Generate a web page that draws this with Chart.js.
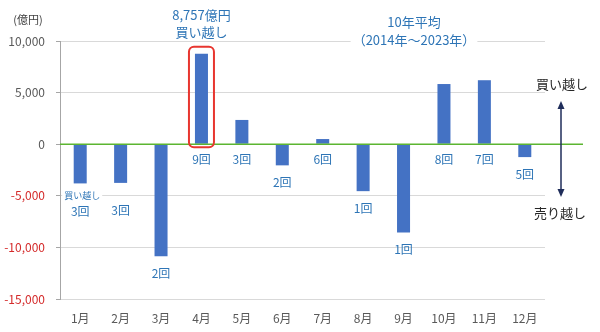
<!DOCTYPE html>
<html>
<head>
<meta charset="utf-8">
<script src="https://cdn.jsdelivr.net/npm/chart.js@4.4.1/dist/chart.umd.min.js"></script>
<style>
  html, body { margin: 0; padding: 0; background: #fff; }
  #wrap { width: 600px; height: 332px; }
</style>
</head>
<body>
<div id="wrap"><canvas id="flowChart" width="600" height="332"></canvas></div>
<script>
const months = ['1月', '2月', '3月', '4月', '5月', '6月', '7月', '8月', '9月', '10月', '11月', '12月'];
// 月別平均の差引き（億円）
const netFlow = [-3800, -3750, -10850, 8757, 2350, -2050, 500, -4550, -8550, 5830, 6200, -1250];
// 10年のうち買い越しとなった回数
const buyCounts = [3, 3, 2, 9, 3, 2, 6, 1, 1, 8, 7, 5];
const yTicks = [10000, 5000, 0, -5000, -10000, -15000];

const JP = '"Noto Sans CJK JP", "Noto Sans", sans-serif';
const BLUE_TEXT = '#2e75b6';

function textWithBg(ctx, str, x, y, font, color) {
    ctx.font = font;
    const w = ctx.measureText(str).width;
    ctx.fillStyle = '#fff';
    ctx.fillRect(x - w / 2 - 2, y - 8, w + 4, 16);
    ctx.fillStyle = color;
    ctx.fillText(str, x, y);
}

const overlay = {
    id: 'overlay',
    afterDatasetsDraw(chart) {
        const ctx = chart.ctx;
        const area = chart.chartArea;
        const y = chart.scales.y;
        const bars = chart.getDatasetMeta(0).data;
        const zero = y.getPixelForValue(0);

        ctx.save();
        // ゼロ線
        ctx.strokeStyle = '#5cb531';
        ctx.lineWidth = 1.5;
        ctx.beginPath();
        ctx.moveTo(area.left, zero);
        ctx.lineTo(583, zero);
        ctx.stroke();

        ctx.textAlign = 'center';
        ctx.textBaseline = 'middle';

        // 買い越し回数
        bars.forEach((bar, i) => {
            let ly;
            if (netFlow[i] >= 0) {
                ly = zero + 15;
            } else {
                ly = bar.y + (i < 2 ? 28 : 17);
            }
            ctx.font = '12px ' + JP;
            ctx.fillStyle = BLUE_TEXT;
            ctx.fillText(buyCounts[i] + '回', bar.x, ly);
        });

        // 1月の凡例
        const b0 = bars[0];
        textWithBg(ctx, '買い越し', b0.x + 2, y.getPixelForValue(-5000), '9px ' + JP, BLUE_TEXT);

        // 最大の買い越し月を囲む
        const peak = bars[3];
        ctx.strokeStyle = '#e8362f';
        ctx.lineWidth = 2;
        ctx.beginPath();
        ctx.roundRect(peak.x - 12.5, peak.y - 7, 25, zero - peak.y + 10, 5);
        ctx.stroke();

        textWithBg(ctx, '8,757億円', peak.x, 15, '13px ' + JP, BLUE_TEXT);
        textWithBg(ctx, '買い越し', peak.x, 32, '13px ' + JP, BLUE_TEXT);

        textWithBg(ctx, '10年平均', 414, 22, '13px ' + JP, BLUE_TEXT);
        textWithBg(ctx, '（2014年～2023年）', 414, 40, '13px ' + JP, BLUE_TEXT);

        // 右側の矢印
        const ax = 561;
        ctx.strokeStyle = '#1f2d5a';
        ctx.fillStyle = '#1f2d5a';
        ctx.lineWidth = 1.5;
        ctx.beginPath();
        ctx.moveTo(ax, 104);
        ctx.lineTo(ax, 194);
        ctx.stroke();
        ctx.beginPath();
        ctx.moveTo(ax, 101); ctx.lineTo(ax - 3.5, 109); ctx.lineTo(ax + 3.5, 109); ctx.closePath();
        ctx.fill();
        ctx.beginPath();
        ctx.moveTo(ax, 197); ctx.lineTo(ax - 3.5, 189); ctx.lineTo(ax + 3.5, 189); ctx.closePath();
        ctx.fill();

        ctx.font = '13px ' + JP;
        ctx.fillStyle = '#262626';
        ctx.fillText('買い越し', 562, 84);
        ctx.fillText('売り越し', 560, 213);

        ctx.font = '11px ' + JP;
        ctx.fillStyle = '#404040';
        ctx.fillText('(億円)', 28, 20);
        ctx.restore();
    }
};

new Chart(document.getElementById('flowChart').getContext('2d'), {
    type: 'bar',
    data: {
        labels: months,
        datasets: [{
            data: netFlow,
            backgroundColor: '#4472c4',
            barPercentage: 0.46,
            categoryPercentage: 0.7
        }]
    },
    options: {
        responsive: false,
        animation: false,
        layout: { padding: { top: 41, right: 55, left: 0, bottom: 0 } },
        plugins: {
            legend: { display: false },
            tooltip: { enabled: false }
        },
        scales: {
            x: {
                grid: { display: false },
                border: { display: false },
                ticks: {
                    color: '#595959',
                    font: { family: JP, size: 12 },
                    padding: 4,
                    maxRotation: 0
                },
                afterFit(scale) { scale.height = 33; }
            },
            y: {
                min: -15000,
                max: 10000,
                afterBuildTicks(scale) {
                    scale.ticks = yTicks.map(v => ({ value: v }));
                },
                grid: {
                    color: '#d9d9d9',
                    tickLength: 4,
                    tickColor: '#a6a6a6'
                },
                border: { color: '#a6a6a6' },
                ticks: {
                    padding: 11,
                    font: { family: JP, size: 12 },
                    color: ctx => ctx.tick.value < 0 ? '#d42a2a' : '#595959',
                    callback: v => v.toLocaleString('en-US')
                },
                afterFit(scale) { scale.width = 60; }
            }
        }
    },
    plugins: [overlay]
});
</script>
</body>
</html>
